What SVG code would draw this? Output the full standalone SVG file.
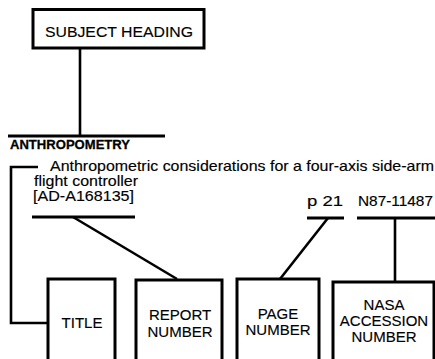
<svg xmlns="http://www.w3.org/2000/svg" width="435" height="359" viewBox="0 0 435 359">
<style>
.box{fill:#fff;stroke:#000;stroke-width:3}
.ln{fill:none;stroke:#000;stroke-width:2.6}
.ul{fill:none;stroke:#000;stroke-width:3}
.t{font-family:"Liberation Sans",Arial,sans-serif;font-size:15px;fill:#000;stroke:#000;stroke-width:0.15}
.c{text-anchor:middle}
.b{font-weight:bold;font-size:13.5px;stroke-width:0.3}
.s{font-size:14.5px}
</style>
<rect width="435" height="359" fill="#fff"/>
<g id="connectors">
<path class="ln" d="M80,48 V136"/>
<path class="ul" d="M8,136 H165"/>
<path class="ln" d="M38,167 H11 V323 H48"/>
<path class="ul" d="M32,217 H135"/>
<path class="ln" d="M73,217 L177,279"/>
<path class="ul" d="M307,218 H344"/>
<path class="ln" d="M328,218 L280,279"/>
<path class="ul" d="M357,218 H435"/>
<path class="ln" d="M395,218 V282"/>
</g>
<g id="subject-heading">
<rect class="box" x="33" y="9.5" width="171" height="38.5"/>
<text class="t" x="45" y="37" textLength="148" lengthAdjust="spacingAndGlyphs">SUBJECT HEADING</text>
</g>
<g id="entry-text">
<text class="t b" x="10" y="149" textLength="120" lengthAdjust="spacingAndGlyphs">ANTHROPOMETRY</text>
<text class="t s" x="50" y="171" textLength="384" lengthAdjust="spacingAndGlyphs">Anthropometric considerations for a four-axis side-arm</text>
<text class="t s" x="34" y="186" textLength="104" lengthAdjust="spacingAndGlyphs">flight controller</text>
<text class="t s" x="33" y="201" textLength="101" lengthAdjust="spacingAndGlyphs">[AD-A168135]</text>
<text class="t s" x="307" y="206" textLength="36" lengthAdjust="spacingAndGlyphs">p 21</text>
<text class="t s" x="358" y="206" textLength="75" lengthAdjust="spacingAndGlyphs">N87-11487</text>
</g>
<g id="title">
<rect class="box" x="48" y="279" width="67" height="95"/>
<text class="t c" x="82" y="328">TITLE</text>
</g>
<g id="report-number">
<rect class="box" x="136" y="280" width="86" height="95"/>
<text class="t c" x="180" y="320">REPORT</text>
<text class="t c" x="180" y="337">NUMBER</text>
</g>
<g id="page-number">
<rect class="box" x="237" y="279" width="82" height="95"/>
<text class="t c" x="278" y="319">PAGE</text>
<text class="t c" x="278" y="335">NUMBER</text>
</g>
<g id="nasa-accession-number">
<rect class="box" x="333" y="282" width="101" height="95"/>
<text class="t c" x="384" y="310">NASA</text>
<text class="t c" x="384" y="326">ACCESSION</text>
<text class="t c" x="384" y="342">NUMBER</text>
</g>
</svg>
